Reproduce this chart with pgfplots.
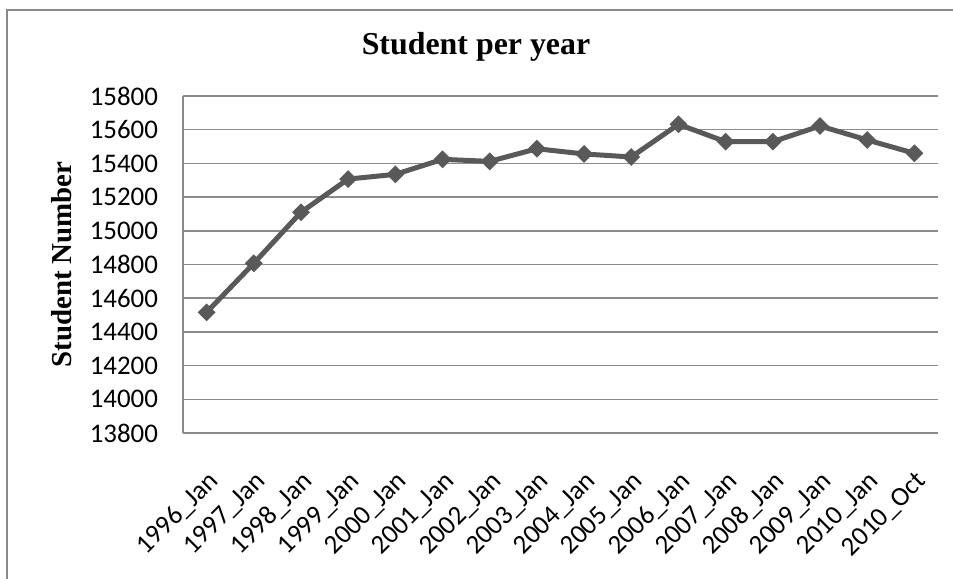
\documentclass[border=0pt]{standalone}
\usepackage{pgfplots}
\pgfplotsset{compat=1.18}
\usepackage{fontspec}
\setmainfont{Liberation Serif}
\newfontfamily\carlito{Carlito}
\definecolor{linegray}{HTML}{595959}
\definecolor{gridgray}{HTML}{8C8C8C}
\definecolor{framegray}{HTML}{8A8A8A}
\begin{document}
\begin{tikzpicture}
\useasboundingbox (-91.5bp,-73bp) rectangle (385bp,216.5bp);
\draw[framegray, line width=0.8bp] (-88bp,-80bp) -- (-88bp,211.5bp) -- (400bp,211.5bp);
\begin{axis}[
  at={(0,0)}, anchor=south west,
  scale only axis, width=377.5bp, height=168.5bp,
  xmin=-0.5, xmax=15.5, ymin=13800, ymax=15800,
  ytick={13800,14000,...,15800},
  scaled y ticks=false,
  yticklabel={\pgfmathprintnumber[fixed,precision=0,1000 sep={}]{\tick}},
  xtick={0,...,15},
  xticklabels={1996\_Jan,1997\_Jan,1998\_Jan,1999\_Jan,2000\_Jan,2001\_Jan,2002\_Jan,2003\_Jan,2004\_Jan,2005\_Jan,2006\_Jan,2007\_Jan,2008\_Jan,2009\_Jan,2010\_Jan,2010\_Oct},
  /pgf/number format/assume math mode=true,
  ticklabel style={font=\carlito\fontsize{13.5}{16}\selectfont, text=black},
  yticklabel style={xshift=-9bp},
  xticklabel style={xshift=4bp, yshift=-22bp, rotate=45, anchor=east, inner sep=0pt},
  axis x line*=bottom, axis y line*=left,
  axis line style={framegray, line width=0.8bp},
  x axis line style={-}, y axis line style={-},
  major tick length=0pt,
  ymajorgrids, grid style={gridgray, line width=0.8bp},
]
\addplot[linegray, line width=2.5bp, mark=square*, mark size=2.9bp,
  mark options={rotate=45, fill=linegray, draw=linegray, line width=0.5bp}]
coordinates {
(0,14516) (1,14807) (2,15110) (3,15307) (4,15335) (5,15424) (6,15412) (7,15487)
(8,15456) (9,15438) (10,15632) (11,15529) (12,15529) (13,15622) (14,15539) (15,15460)
};
\end{axis}
\node[font=\bfseries\fontsize{16}{19}\selectfont] at (146.5bp,193bp) {Student per year};
\node[font=\bfseries\fontsize{14.5}{17}\selectfont, rotate=90] at (-60.5bp,84.25bp) {Student Number};
\end{tikzpicture}
\end{document}
